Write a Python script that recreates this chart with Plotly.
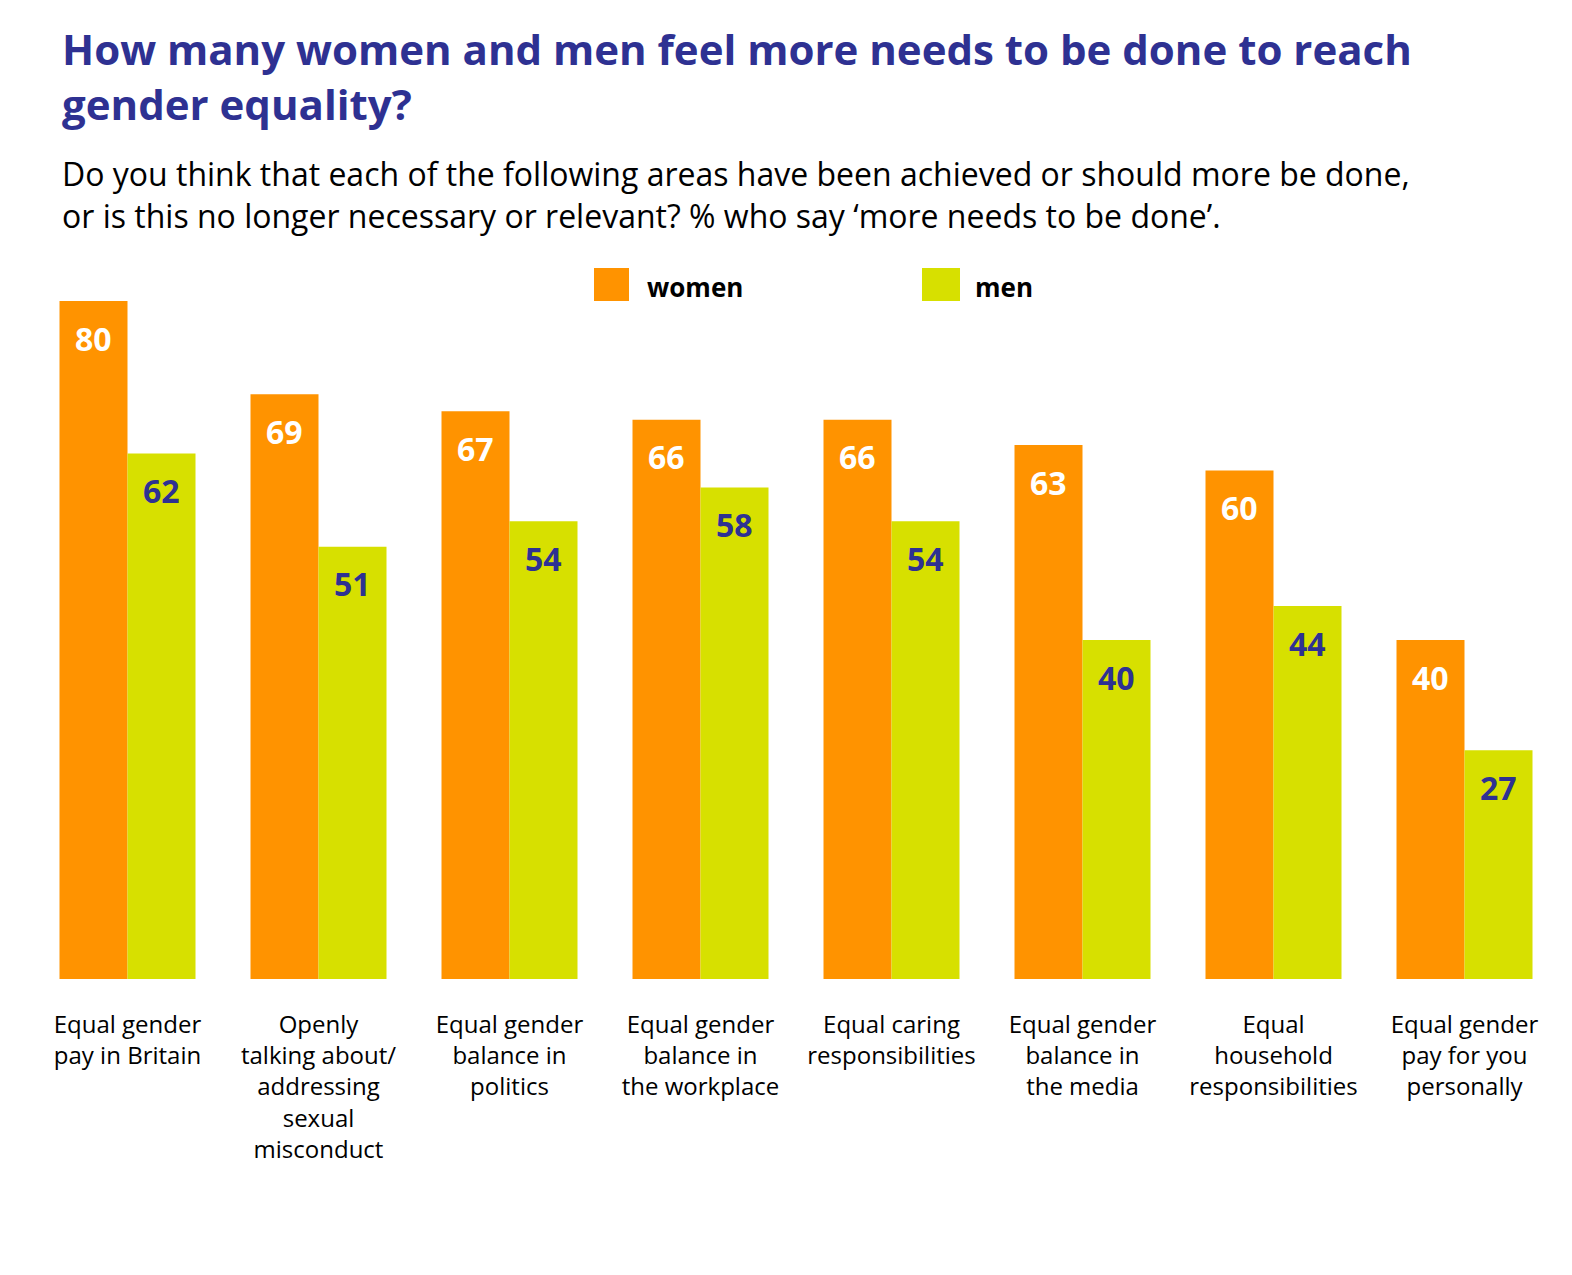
import plotly.graph_objects as go

# Données
categories = [
    "Equal gender<br>pay in Britain",
    "Openly<br>talking about/<br>addressing<br>sexual<br>misconduct",
    "Equal gender<br>balance in<br>politics",
    "Equal gender<br>balance in<br>the workplace",
    "Equal caring<br>responsibilities",
    "Equal gender<br>balance in<br>the media",
    "Equal<br>household<br>responsibilities",
    "Equal gender<br>pay for you<br>personally",
]
women = [80, 69, 67, 66, 66, 63, 60, 40]
men = [62, 51, 54, 58, 54, 40, 44, 27]
series_names = ["women", "men"]

ORANGE = "#FF9300"
GREEN = "#D7E000"
NAVY = "#2E3192"
FONT = "Open Sans"

# Géométrie de la figure (pixels)
W, H = 1572, 1275
OFF = 6  # décalage de la page dans la capture
ML, MR, MT, MB = 30 - OFF, 14 + OFF, 299 - OFF, 298 + OFF
PW = W - ML - MR
PH = H - MT - MB


def px_x(p):
    # p : position écran en pixels
    return (p - OFF - ML) / PW


def px_y(p):
    return (H - MB - (p - OFF)) / PH


x_idx = list(range(len(categories)))

fig = go.Figure()
fig.add_trace(go.Bar(x=x_idx, y=women, name=series_names[0],
                     marker_color=ORANGE, marker_line_width=0))
fig.add_trace(go.Bar(x=x_idx, y=men, name=series_names[1],
                     marker_color=GREEN, marker_line_width=0))

annotations = []

# Étiquettes de valeurs
for i, (w, m) in enumerate(zip(women, men)):
    annotations.append(dict(x=i, y=w, xref="x", yref="y", text=f"<b>{w}</b>",
                            showarrow=False, xshift=-34, yshift=-37,
                            font=dict(family=FONT, size=32, color="white")))
    annotations.append(dict(x=i, y=m, xref="x", yref="y", text=f"<b>{m}</b>",
                            showarrow=False, xshift=34, yshift=-37,
                            font=dict(family=FONT, size=32, color=NAVY)))

# Titre et sous-titre
annotations.append(dict(
    x=px_x(58), y=px_y(16), xref="paper", yref="paper",
    xanchor="left", yanchor="top", align="left", showarrow=False,
    text="<b>How many women and men feel more needs to be done to reach<br>gender equality?</b>",
    font=dict(family=FONT, size=42, color=NAVY)))
annotations.append(dict(
    x=px_x(58), y=px_y(148), xref="paper", yref="paper",
    xanchor="left", yanchor="top", align="left", showarrow=False,
    text="Do you think that each of the following areas have been achieved or should more be done,<br>"
         "or is this no longer necessary or relevant? % who say \u2018more needs to be done\u2019.",
    font=dict(family=FONT, size=32, color="black")))

# Légende manuelle
shapes = []
legend_items = [(series_names[0], ORANGE, 592, 627, 643), (series_names[1], GREEN, 920, 958, 971)]
for name, col, x0, x1, tx in legend_items:
    shapes.append(dict(type="rect", xref="paper", yref="paper",
                       x0=px_x(x0), x1=px_x(x1), y0=px_y(299), y1=px_y(266),
                       fillcolor=col, line_width=0))
    annotations.append(dict(x=px_x(tx), y=px_y(285), xref="paper", yref="paper",
                            xanchor="left", yanchor="middle", showarrow=False,
                            text=f"<b>{name}</b>",
                            font=dict(family=FONT, size=26, color="black")))

fig.update_layout(
    width=W, height=H,
    margin=dict(l=ML, r=MR, t=MT, b=MB),
    barmode="group",
    bargap=0.288,
    bargroupgap=0,
    showlegend=False,
    paper_bgcolor="white",
    plot_bgcolor="white",
    annotations=annotations,
    shapes=shapes,
    font=dict(family=FONT),
)

fig.update_xaxes(
    tickmode="array", tickvals=x_idx, ticktext=categories,
    range=[-0.5, len(categories) - 0.5],
    showgrid=False, showline=False, zeroline=False, ticks="",
    tickfont=dict(family=FONT, size=24, color="black"),
    ticklabelstandoff=29,
)
fig.update_yaxes(range=[0, 80], visible=False, showgrid=False, zeroline=False)

fig.write_html("out.html")
